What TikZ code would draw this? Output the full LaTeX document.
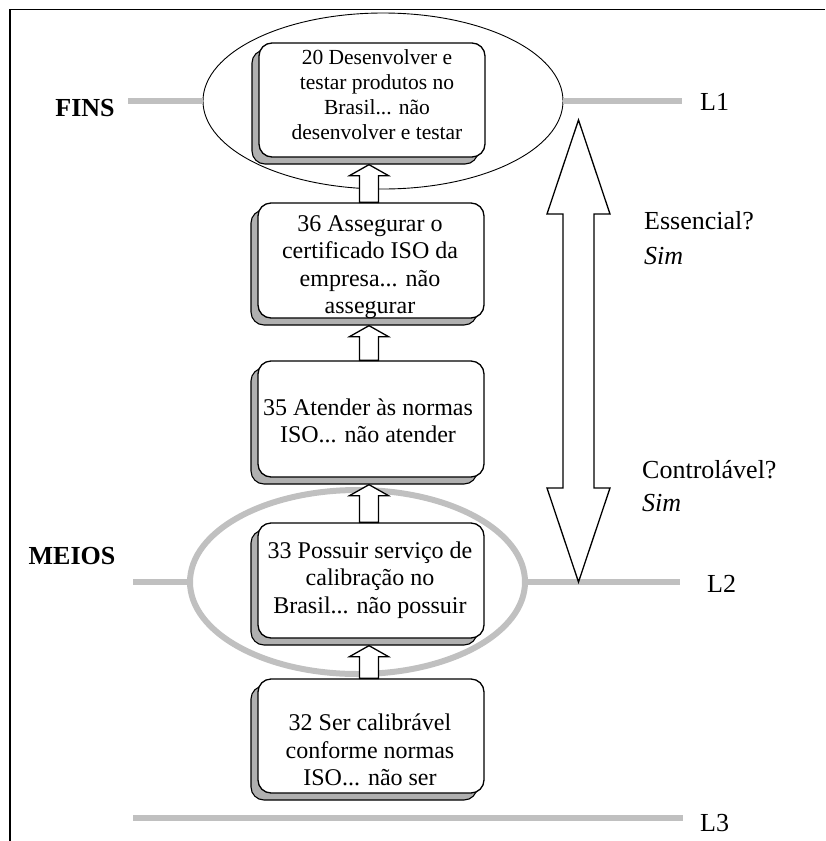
\documentclass[tikz,border=0pt]{standalone}
\usepackage{fontspec}
\setmainfont{Liberation Serif}
\usetikzlibrary{calc,shadows,shapes.geometric}
\definecolor{linegray}{RGB}{192,192,192}
\definecolor{shadegray}{RGB}{176,176,176}
\newcommand\boxfont{\fontsize{24}{27.5}\selectfont}
\newcommand\smallboxfont{\fontsize{21.5}{25}\selectfont}
\newcommand\lblfont{\fontsize{26}{30}\selectfont}
% hollow upward arrow from the top of box #1 to the shadow bottom of box #2
\newcommand\upblock[2]{%
  \draw[blockarrow] let \p1=(#1.north), \p2=(#2.south) in
    (\x1-11.5pt,\y1) -- (\x1-11.5pt,\y2-18pt) -- (\x1-21.5pt,\y2-18pt) --
    (\x1-2pt,\y2-7pt) -- (\x1+17.5pt,\y2-18pt) -- (\x1+7.5pt,\y2-18pt) --
    (\x1+7.5pt,\y1) -- cycle;}
\begin{document}
\begin{tikzpicture}[x=1pt,y=-1pt,
  ideabox/.style={draw=black, line width=1.3pt, fill=white, rounded corners=13pt,
    minimum width=226pt, minimum height=115pt, inner sep=0pt,
    general shadow={shadow xshift=-7pt, shadow yshift=-7pt, fill=shadegray,
      draw=black, line width=1.1pt}},
  boxtext/.style={align=center, inner sep=0pt, font=\boxfont},
  blockarrow/.style={draw=black, fill=white, line width=1.3pt, line join=miter},
  lstroke/.style={draw=linegray, line width=6pt},
  sidelabel/.style={anchor=west, inner sep=0pt, font=\lblfont},
  levellabel/.style={anchor=west, inner sep=0pt, font=\lblfont}]
\useasboundingbox (0,0) rectangle (825,841);

% frame
\coordinate (fbl) at (10,841);
\coordinate (ftl) at (10,9.5);
\coordinate (ftr) at (825,9.5);
\draw[line width=1.8pt] (fbl) -- (ftl) -- (ftr);

% rings around the end and the means
\node[ellipse, draw=black, line width=0.9pt, minimum width=360pt, minimum height=176pt,
  inner sep=0pt] (finsring) at (383,101) {};
\node[ellipse, draw=linegray, line width=6pt, minimum width=335pt, minimum height=184pt,
  inner sep=0pt] (meiosring) at (357.5,582) {};

% level lines
\coordinate (l1w) at (128,101);
\coordinate (l1e) at (682,101);
\draw[lstroke] (l1w) -- (finsring.west);
\draw[lstroke] (finsring.east) -- (l1e);
\coordinate (l2w) at (133,582);
\coordinate (l2e) at (680,582);
\draw[lstroke] (l2w) -- (meiosring.west);
\draw[lstroke] (meiosring.east) -- (l2e);
\coordinate (l3w) at (133,818);
\coordinate (l3e) at (683,818);
\draw[lstroke] (l3w) -- (l3e);

\node[levellabel] (lab1) at (700,102) {L1};
\node[levellabel] (lab2) at (707,584) {L2};
\node[levellabel] (lab3) at (700,823) {L3};

% concept boxes
\node[ideabox, minimum height=114pt] (b20) at (372,100) {};
\node[ideabox] (b36) at (371,260.5) {};
\node[ideabox, minimum height=116pt] (b35) at (371,419) {};
\node[ideabox] (b33) at (371,580.5) {};
\node[ideabox, minimum height=114pt] (b32) at (371,736) {};

\node[boxtext, font=\smallboxfont] (t20) at (377,95) {20 Desenvolver e\\testar produtos no\\Brasil... não\\desenvolver e testar};
\node[boxtext] (t36) at (370,267) {36 Assegurar o\\certificado ISO da\\empresa... não\\assegurar};
\node[boxtext] (t35) at (368,421) {35 Atender às normas\\ISO... não atender};
\node[boxtext] (t33) at (370,580) {33 Possuir serviço de\\calibração no\\Brasil... não possuir};
\node[boxtext] (t32) at (370,750) {32 Ser calibrável\\conforme normas\\ISO... não ser};

% links between the boxes
\upblock{b36}{b20}
\upblock{b35}{b36}
\upblock{b33}{b35}
\upblock{b32}{b33}

% two-headed arrow between L1 and L2
\coordinate (dtop) at (578.5,120);
\coordinate (dbot) at (578.5,582);
\draw[blockarrow] let \p1=(dtop), \p2=(dbot) in
  (\p1) -- (\x1+31.5pt,\y1-94pt) -- (\x1+15.5pt,\y1-94pt) --
  (\x2+15.5pt,\y2+94pt) -- (\x2+31.5pt,\y2+94pt) -- (\p2) --
  (\x2-31.5pt,\y2+94pt) -- (\x2-15.5pt,\y2+94pt) --
  (\x1-15.5pt,\y1-94pt) -- (\x1-31.5pt,\y1-94pt) -- cycle;

% side questions
\node[sidelabel] (q1) at (644,221) {Essencial?};
\node[sidelabel, font=\lblfont\itshape] (a1) at (644,256) {Sim};
\node[sidelabel] (q2) at (642,470) {Controlável?};
\node[sidelabel, font=\lblfont\itshape] (a2) at (642,503) {Sim};

% level names
\node[font=\lblfont\bfseries, inner sep=0pt] (fins) at (85,108) {FINS};
\node[font=\lblfont\bfseries, inner sep=0pt] (meios) at (72,556) {MEIOS};
\end{tikzpicture}
\end{document}
